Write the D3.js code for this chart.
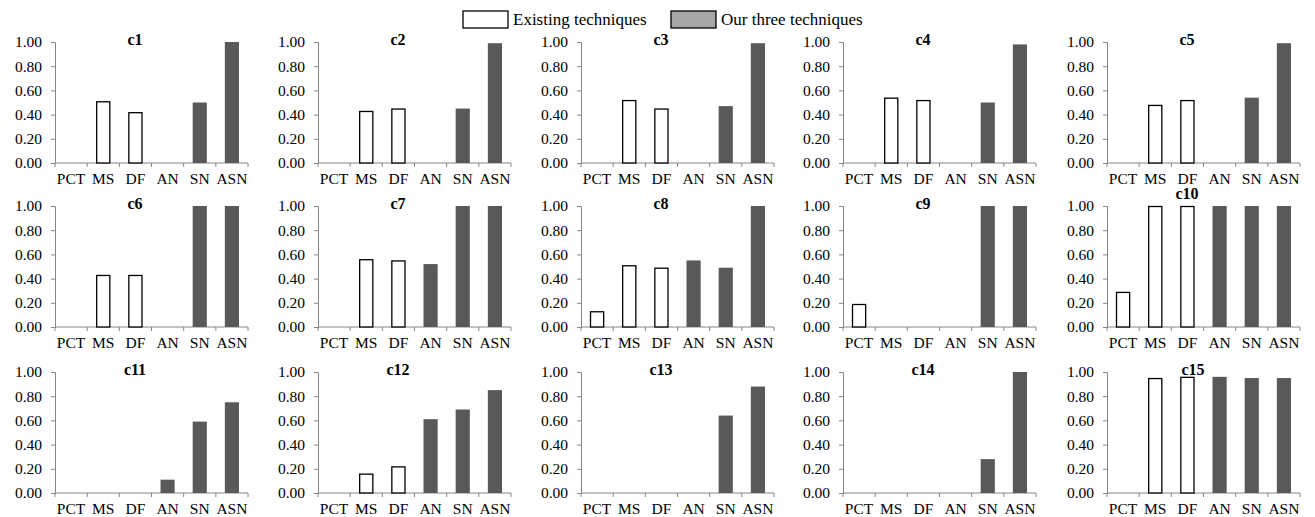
<!DOCTYPE html>
<html lang="en">
<head>
  <meta charset="UTF-8">
  <script src="https://cdn.jsdelivr.net/npm/d3@7"></script>
  <title>Techniques per case</title>
  <style>
    body { margin: 0; background: #fff; }
    text { font-family: "Liberation Serif", "Times New Roman", serif; fill: #000; }
  </style>
</head>
<body>
  <svg id="chart" width="1315" height="517"></svg>
  <script>

    // categories and data
    let techniques = ["PCT", "MS", "DF", "AN", "SN", "ASN"];
    let ours = ["AN", "SN", "ASN"]; // drawn dark
    let cases = ["c1","c2","c3","c4","c5","c6","c7","c8","c9","c10","c11","c12","c13","c14","c15"];
    let yTicks = [0, 0.2, 0.4, 0.6, 0.8, 1.0];

    let c1  = [0, 0.51, 0.42, 0, 0.50, 1.00];
    let c2  = [0, 0.43, 0.45, 0, 0.45, 0.99];
    let c3  = [0, 0.52, 0.45, 0, 0.47, 0.99];
    let c4  = [0, 0.54, 0.52, 0, 0.50, 0.98];
    let c5  = [0, 0.48, 0.52, 0, 0.54, 0.99];
    let c6  = [0, 0.43, 0.43, 0, 1.00, 1.00];
    let c7  = [0, 0.56, 0.55, 0.52, 1.00, 1.00];
    let c8  = [0.13, 0.51, 0.49, 0.55, 0.49, 1.00];
    let c9  = [0.19, 0, 0, 0, 1.00, 1.00];
    let c10 = [0.29, 1.00, 1.00, 1.00, 1.00, 1.00];
    let c11 = [0, 0, 0, 0.11, 0.59, 0.75];
    let c12 = [0, 0.16, 0.22, 0.61, 0.69, 0.85];
    let c13 = [0, 0, 0, 0, 0.64, 0.88];
    let c14 = [0, 0, 0, 0, 0.28, 1.00];
    let c15 = [0, 0.95, 0.96, 0.96, 0.95, 0.95];
    let values = [c1,c2,c3,c4,c5,c6,c7,c8,c9,c10,c11,c12,c13,c14,c15];

    let legendLabels = ["Existing techniques", "Our three techniques"];

    let svg = d3.select("#chart");

    /* LAYOUT */
    let colX = [55, 318, 581, 843, 1107]; // left edge of each plot
    let rowTop = [42, 206, 372];           // y of 1.00
    let plotW = 193, plotH = 121;
    let axisColor = "#868686";
    let darkFill = "#595959";

    // small title nudges where Excel moved them
    let titleNudge = { c10: [0, -10], c15: [6, 0] };

    cases.forEach((name, i) => {
      let col = i % 5, row = Math.floor(i / 5);
      let g = svg.append("g")
        .attr("transform", `translate(${colX[col]},${rowTop[row]})`);

      let x = d3.scaleBand()
        .domain(techniques)
        .range([0, plotW])
        .paddingInner(0.56)
        .paddingOuter(0.28);
      let y = d3.scaleLinear().domain([0, 1]).range([plotH, 0]);

      // y axis
      let yAxis = g.append("g")
        .call(d3.axisLeft(y).tickValues(yTicks).tickFormat(d3.format(".2f")).tickSizeOuter(0).tickSize(4).tickPadding(9));
      yAxis.select(".domain").attr("stroke", axisColor);
      yAxis.selectAll(".tick line").attr("stroke", axisColor);
      yAxis.selectAll("text").style("font-size", "15.5px");

      // x axis: labels centred, ticks on category edges
      let xAxis = g.append("g")
        .attr("transform", `translate(0,${plotH})`)
        .call(d3.axisBottom(x).tickSize(0).tickPadding(10));
      xAxis.select(".domain").attr("stroke", axisColor).attr("d", `M0,0H${plotW}`);
      xAxis.selectAll("text").style("font-size", "15.5px");
      let step = x.step();
      xAxis.selectAll(".edge")
        .data(d3.range(techniques.length + 1))
        .enter()
        .append("line")
        .attr("x1", d => d * step)
        .attr("x2", d => d * step)
        .attr("y1", 0)
        .attr("y2", 4)
        .attr("stroke", axisColor);

      // bars
      g.selectAll(".bar")
        .data(techniques.map((t, j) => ({ t: t, v: values[i][j] })).filter(d => d.v > 0))
        .enter()
        .append("rect")
        .attr("x", d => x(d.t) + (ours.includes(d.t) ? 0 : 0.5))
        .attr("width", d => x.bandwidth() - (ours.includes(d.t) ? 0 : 1))
        .attr("y", d => y(d.v) + (ours.includes(d.t) ? 0 : 0.5))
        .attr("height", d => plotH - y(d.v) - (ours.includes(d.t) ? 0 : 0.5))
        .attr("fill", d => ours.includes(d.t) ? darkFill : "#fff")
        .attr("stroke", d => ours.includes(d.t) ? "none" : "#000")
        .attr("stroke-width", 1.3);

      // title
      let nudge = titleNudge[name] || [0, 0];
      g.append("text")
        .attr("x", 80 + nudge[0])
        .attr("y", 3 + nudge[1])
        .attr("text-anchor", "middle")
        .style("font-size", "16px")
        .style("font-weight", "bold")
        .text(name);
    });

    /* LEGEND */
    let legend = svg.append("g");
    let legendX = [463, 671];
    let legendFill = ["#fff", "#a6a6a6"];
    legendLabels.forEach((label, i) => {
      legend.append("rect")
        .attr("x", legendX[i]).attr("y", 11)
        .attr("width", 45).attr("height", 17)
        .attr("fill", legendFill[i])
        .attr("stroke", "#000").attr("stroke-width", 1.3);
      legend.append("text")
        .attr("x", legendX[i] + 50).attr("y", 25)
        .style("font-size", "17px")
        .text(label);
    });
  </script>
</body>
</html>
